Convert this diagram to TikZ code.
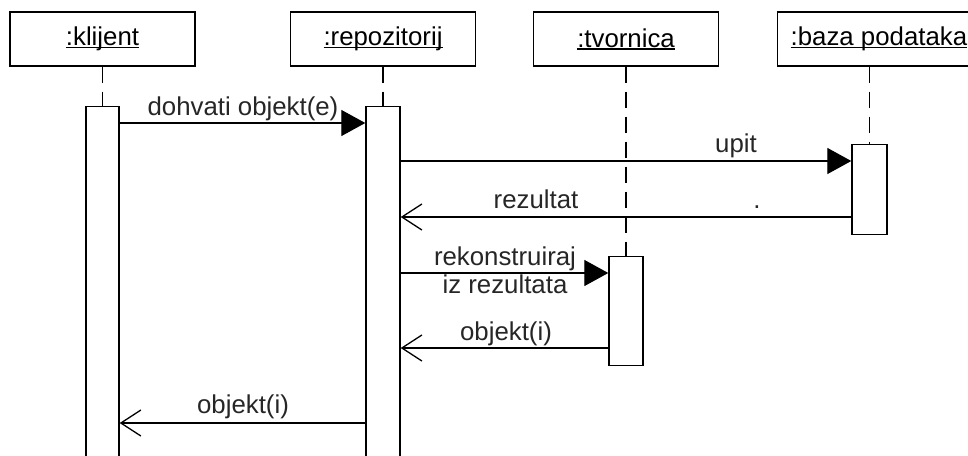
\documentclass[tikz,border=0pt]{standalone}
\usepackage{fontspec}
\setmainfont{Liberation Sans}
\usetikzlibrary{arrows.meta}
\newcommand\myul[1]{\setbox0\hbox{#1}\rlap{\rule[-2.5pt]{\wd0}{1.3pt}}\box0}
\begin{document}
\begin{tikzpicture}[x=1pt,y=-1pt,
  head/.style={draw, line width=1.4pt, minimum width=185pt, minimum height=54pt, inner sep=0pt, font=\fontsize{25.8}{30}\selectfont},
  act/.style={draw, line width=1.4pt, fill=white, inner sep=0pt},
  life/.style={line width=1.4pt, dash pattern=on 16pt off 9pt},
  call/.style={line width=1.3pt, -{Triangle[length=24pt,width=26pt]}},
  ret/.style={line width=1.3pt, -{Straight Barb[length=20pt,width=26pt]}},
  lbl/.style={font=\fontsize{25.8}{30}\selectfont, anchor=base, inner sep=0pt, text=black!85}]
\useasboundingbox (0,0) rectangle (968,455);
\clip (0,0) rectangle (968,455);
\fill[white] (0,0) rectangle (968,455);
% heads
\node[head] (hK) at (102.5,39) {\myul{:klijent}};
\node[head] (hR) at (383,39) {\myul{:repozitorij}};
\node[head] (hT) at (626,39) {\myul{:tvornica}};
\node[draw, line width=1.4pt, minimum height=54pt, inner ysep=0pt, inner xsep=13pt, anchor=west, font=\fontsize{25.8}{30}\selectfont] (hB) at (777,39) {\myul{:baza podataka}\hspace{10pt}};
% activations
\node[act, minimum width=33pt, minimum height=420pt, anchor=north] (aK) at (102.5,106) {};
\node[act, minimum width=34pt, minimum height=420pt, anchor=north] (aR) at (383,106) {};
\node[act, minimum width=35pt, minimum height=90pt, anchor=north] (aB) at (869.5,144) {};
\node[act, minimum width=34pt, minimum height=109pt, anchor=north] (aT) at (626,256) {};
% lifelines
\draw[life] (hK.south) -- (aK.north);
\draw[life] (hR.south) -- (aR.north);
\draw[life] (hT.south) -- (aT.north);
\draw[life] (hB.south -| aB.north) -- (aB.north);
% message rows
\coordinate (m1) at (0,123);
\coordinate (m2) at (0,161);
\coordinate (m3) at (0,217);
\coordinate (m4) at (0,273);
\coordinate (m5) at (0,348);
\coordinate (m6) at (0,423);
\draw[call] (aK.east |- m1) -- (aR.west |- m1);
\draw[call] (aR.east |- m2) -- (aB.west |- m2);
\draw[ret] (aB.west |- m3) -- (aR.east |- m3);
\draw[call] (aR.east |- m4) -- (aT.west |- m4);
\draw[ret] (aT.west |- m5) -- (aR.east |- m5);
\draw[ret] (aR.west |- m6) -- (aK.east |- m6);
% labels
\node[lbl] (l1) at (243,115) {dohvati objekt(e)};
\node[lbl] (l2) at (736,152) {upit};
\node[lbl] (l3) at (536,208) {rezultat};
\node[lbl] (l3b) at (757,208) {.};
\node[lbl] (l4a) at (505,265) {rekonstruiraj};
\node[lbl] (l4b) at (505,293) {iz rezultata};
\node[lbl] (l5) at (506,340) {objekt(i)};
\node[lbl] (l6) at (243,413) {objekt(i)};
\end{tikzpicture}
\end{document}
